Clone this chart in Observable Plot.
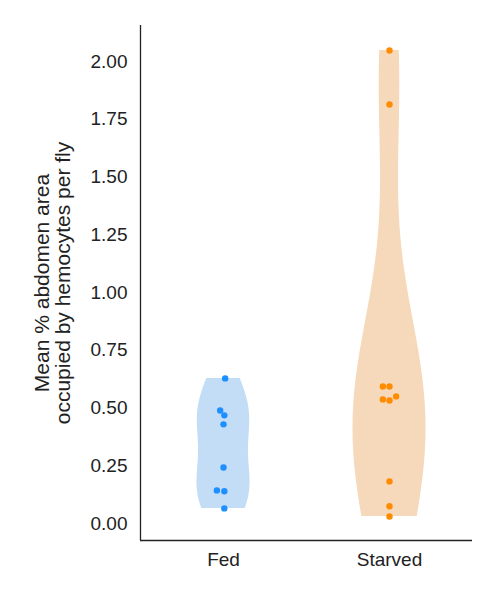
<!DOCTYPE html>
<html><head><meta charset="utf-8">
<script src="https://cdn.jsdelivr.net/npm/d3@7"></script>
<script src="https://cdn.jsdelivr.net/npm/@observablehq/plot@0.6"></script>
<style>body{margin:0;background:#fff} svg text{font-size:19px} svg g.ylab text{font-size:21px}</style>
</head><body><div id="chart"></div>
<script>
const groups = ["Fed", "Starved"]
const fed = [0.628, 0.489, 0.468, 0.429, 0.242, 0.143, 0.139, 0.065]
const fedJitter = [0.01, -0.02, 0.005, 0.0, 0.0, -0.04, 0.005, 0.005]
const starved = [2.048, 1.814, 0.593, 0.593, 0.537, 0.532, 0.55, 0.182, 0.074, 0.03]
const starvedJitter = [0.0, 0.0, -0.04, 0.0, -0.04, 0.0, 0.04, 0.0, 0.0, 0.0]
const dotColors = ["#1e8fff", "#ff8c00"]
const violinColors = ["#c4ddf6", "#f6d9bb"]
const violinWidth = [0.16, 0.22]

// gaussian KDE, Scott bandwidth, cut at data range
function kde(vals, w, pos) {
  const n = vals.length, sd = d3.deviation(vals), bw = sd * Math.pow(n, -0.2)
  const [lo, hi] = d3.extent(vals)
  const ys = d3.range(0, 101).map(i => lo + (hi - lo) * i / 100)
  const dens = ys.map(y => d3.sum(vals, v => Math.exp(-0.5 * ((y - v) / bw) ** 2)))
  const m = d3.max(dens)
  return ys.map((y, i) => ({y, x1: pos - w * dens[i] / m, x2: pos + w * dens[i] / m}))
}
const violins = [kde(fed, violinWidth[0], 0), kde(starved, violinWidth[1], 1)]
const pts = [
  ...fed.map((v, i) => ({x: fedJitter[i], y: v, g: 0})),
  ...starved.map((v, i) => ({x: 1 + starvedJitter[i], y: v, g: 1}))
]

const chart = Plot.plot({
  width: 500, height: 600,
  marginLeft: 140, marginRight: 28, marginTop: 25, marginBottom: 60,
  style: {fontFamily: "Liberation Sans, Arial, sans-serif", color: "#222"},
  x: {domain: [-0.5, 1.5], axis: null},
  y: {domain: [-0.074, 2.156], axis: null},
  marks: [
    ...violins.map((v, i) => Plot.areaX(v, {y: "y", x1: "x1", x2: "x2", fill: violinColors[i], curve: "linear"})),
    Plot.dot(pts, {x: "x", y: "y", r: 3.2, fill: d => dotColors[d.g]}),
    Plot.axisY(d3.range(0, 2.01, 0.25), {tickSize: 0, tickPadding: 13, tickFormat: d => d.toFixed(2), label: null}),
    Plot.axisX([0, 1], {tickSize: 0, tickPadding: 12, tickFormat: d => groups[d], label: null}),
    Plot.ruleX([-0.5], {stroke: "#222", strokeWidth: 1.3}),
    Plot.ruleY([-0.074], {stroke: "#222", strokeWidth: 1.3}),
    Plot.text(["Mean % abdomen area\noccupied by hemocytes per fly"], {
      frameAnchor: "left", dx: -88, rotate: -90, lineAnchor: "middle", textAnchor: "middle", fill: "#222", className: "ylab"
    })
  ]
})
d3.select("#chart").append(() => chart)
</script></body></html>
